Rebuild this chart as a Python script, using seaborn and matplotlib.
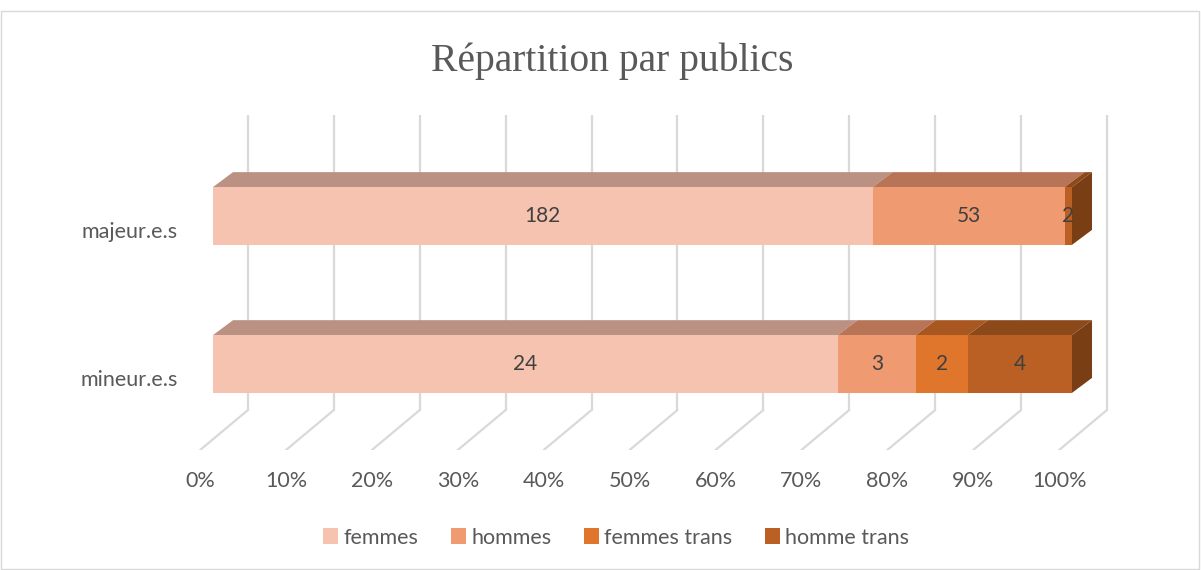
import numpy as np
import pandas as pd
import matplotlib.pyplot as plt
from matplotlib.patches import Polygon, Rectangle, Patch
import seaborn as sns

# data
categories = ["majeur.e.s", "mineur.e.s"]
series = ["femmes", "hommes", "femmes trans", "homme trans"]
femmes = [182, 24]
hommes = [53, 3]
femmes_trans = [0, 2]
homme_trans = [2, 4]

front_colors = ["#F5C3AF", "#F09A72", "#E0762C", "#BA6024"]
top_colors = ["#BA9182", "#B87456", "#A85720", "#8C4A1B"]
side_color = "#7A3E15"
grid_color = "#D9D9D9"
text_color = "#595959"

counts = np.array([femmes, hommes, femmes_trans, homme_trans], dtype=float)
pct = counts / counts.sum(axis=0) * 100
cum = np.cumsum(pct, axis=0)

sns.set_style("white")
plt.rcParams["font.family"] = ["Lato", "DejaVu Sans"]

W, H = 1201, 570
fig = plt.figure(figsize=(W / 100, H / 100), dpi=100)

# axes placement in pixels: 0% at x=213, 100% at x=1072
ppu = (1072 - 213) / 100
x_lo, x_hi = -3, 106
ax_left = 213 + x_lo * ppu
ax_right = 213 + x_hi * ppu
ax = fig.add_axes([ax_left / W, (H - 450) / H, (ax_right - ax_left) / W, (450 - 115) / H])

bar_h = 0.39
# 3D offsets (data units)
bdx, bdy = 2.33, 0.101      # bar depth
gback, gfront = 4.07, -1.5  # grid back / front x offsets
y_top, y_floor_back, y_floor_front = -0.682, 1.311, 1.581

# gridlines (back wall + floor)
ticks = np.arange(0, 101, 10)
for t in ticks:
    ax.plot([t + gback, t + gback], [y_top, y_floor_back], color=grid_color, lw=1.6, zorder=0)
    ax.plot([t + gback, t + gfront], [y_floor_back, y_floor_front], color=grid_color, lw=1.6, zorder=0)

# front faces: stacked via cumulative totals, drawn back to front
for i in range(len(series) - 1, -1, -1):
    df = pd.DataFrame({"cat": categories, "val": cum[i]})
    sns.barplot(data=df, x="val", y="cat", orient="h", color=front_colors[i],
                width=bar_h, saturation=1, linewidth=0, ax=ax, zorder=2)

# top faces and end caps
for j, cat in enumerate(categories):
    top = j - bar_h / 2
    bot = j + bar_h / 2
    left = 0
    for i in range(len(series)):
        right = cum[i][j]
        if right > left:
            ax.add_patch(Polygon([(left, top), (right, top), (right + bdx, top - bdy), (left + bdx, top - bdy)],
                                 closed=True, facecolor=top_colors[i], edgecolor="none", zorder=1.5))
        left = right
    R = cum[-1][j]
    ax.add_patch(Polygon([(R, top), (R + bdx, top - bdy), (R + bdx, bot - bdy), (R, bot)],
                         closed=True, facecolor=side_color, edgecolor="none", zorder=3))
    # value labels
    left = 0
    for i in range(len(series)):
        right = cum[i][j]
        if counts[i][j] > 0:
            ax.text((left + right) / 2, j, f"{int(counts[i][j])}", ha="center", va="center",
                    fontsize=15, color="#404040", zorder=4)
        left = right

ax.set_xlim(x_lo, x_hi)
ax.set_ylim(y_floor_front, y_top)
ax.set_xticks(ticks + gfront)
ax.set_xticklabels([f"{t}%" for t in ticks], fontsize=15.5, color=text_color)
ax.set_yticks([0.095, 1.095])
ax.set_yticklabels(categories, fontsize=15.5, color=text_color)
ax.tick_params(axis="x", length=0, pad=15)
ax.tick_params(axis="y", length=0, pad=(ax_left - 178) * 0.72)
ax.set_xlabel("")
ax.set_ylabel("")
for s in ax.spines.values():
    s.set_visible(False)
ax.patch.set_alpha(0)

fig.text(0.51, 0.893, "Répartition par publics", ha="center", va="center",
         fontsize=28.5, color=text_color, family=["Liberation Serif", "DejaVu Serif"])

handles = [Patch(facecolor=c, edgecolor="none") for c in front_colors]
fig.legend(handles, series, loc="center", bbox_to_anchor=(0.513, 0.057), ncol=4, frameon=False,
           fontsize=15.5, labelcolor=text_color, handlelength=0.7, handleheight=0.7,
           handletextpad=0.25, columnspacing=1.5)

fig.patches.append(Rectangle((0.001, 0.002), 0.997, 0.978, transform=fig.transFigure,
                             fill=False, edgecolor="#D9D9D9", lw=1))

fig.savefig("out.png", dpi=100)
